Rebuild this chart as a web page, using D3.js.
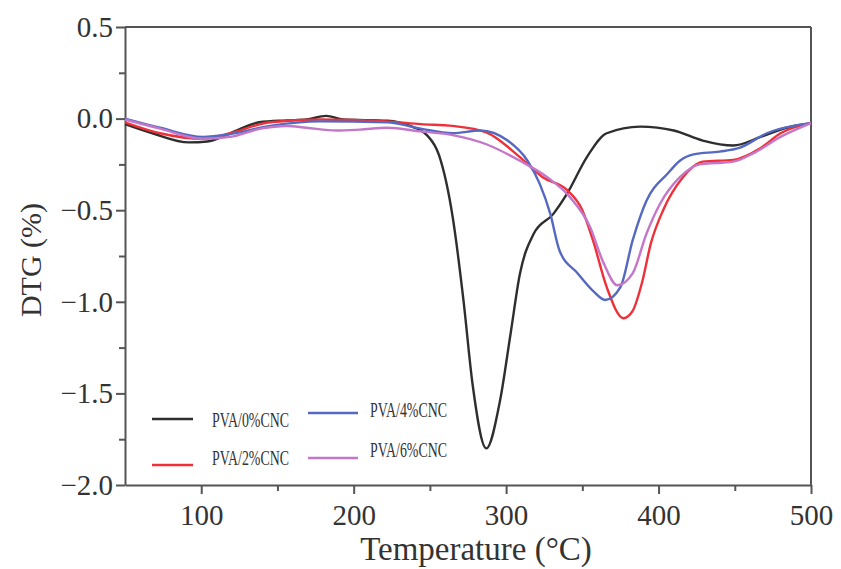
<!DOCTYPE html>
<html>
<head>
<meta charset="utf-8">
<script src="https://cdn.jsdelivr.net/npm/d3@7"></script>
<style>
  body { margin: 0; background: #fff; }
  svg { display: block; }
  .axis text { font-family: "Liberation Serif", "DejaVu Serif", serif; fill: #333; }
</style>
</head>
<body>
<div id="chart"></div>
<script>
// DATA (temperature in °C, DTG in %)
var seriesNames = ["PVA/0%CNC", "PVA/2%CNC", "PVA/4%CNC", "PVA/6%CNC"];

var pva0T = [50, 68, 92, 104, 119, 138, 156, 169, 182, 193, 222, 237, 248, 256, 265, 272, 278, 287, 296, 303, 309, 318, 331, 340, 353, 366, 388, 410, 429, 449, 467, 484, 500];
var pva0V = [-0.03, -0.08, -0.13, -0.125, -0.08, -0.02, -0.01, -0.005, 0.015, -0.005, -0.012, -0.04, -0.09, -0.2, -0.54, -0.99, -1.45, -1.8, -1.54, -1.17, -0.85, -0.63, -0.52, -0.41, -0.21, -0.08, -0.044, -0.065, -0.12, -0.147, -0.1, -0.05, -0.025];

var pva2T = [50, 73, 101, 119, 145, 178, 222, 244, 265, 287, 309, 324, 340, 350, 357, 366, 377, 383, 389, 395, 403, 416, 429, 449, 467, 480, 500];
var pva2V = [-0.02, -0.08, -0.11, -0.08, -0.02, -0.005, -0.015, -0.03, -0.04, -0.075, -0.21, -0.32, -0.39, -0.5, -0.665, -0.92, -1.09, -1.05, -0.9, -0.68, -0.5, -0.32, -0.235, -0.225, -0.16, -0.08, -0.025];

var pva4T = [50, 73, 101, 119, 145, 178, 222, 244, 265, 283, 301, 314, 322, 329, 335, 347, 357, 365, 375, 383, 392, 406, 414, 423, 440, 453, 471, 500];
var pva4V = [0, -0.05, -0.1, -0.085, -0.04, -0.015, -0.02, -0.055, -0.08, -0.065, -0.12, -0.23, -0.355, -0.52, -0.72, -0.845, -0.94, -0.99, -0.92, -0.665, -0.45, -0.3, -0.23, -0.195, -0.18, -0.16, -0.08, -0.025];

var pva6T = [50, 73, 101, 119, 139, 156, 169, 189, 204, 222, 244, 265, 287, 309, 327, 342, 355, 364, 373, 383, 392, 401, 414, 427, 449, 462, 480, 500];
var pva6V = [-0.005, -0.055, -0.11, -0.1, -0.055, -0.04, -0.05, -0.065, -0.06, -0.05, -0.07, -0.09, -0.14, -0.23, -0.32, -0.43, -0.59, -0.79, -0.91, -0.845, -0.63, -0.465, -0.32, -0.25, -0.235, -0.19, -0.1, -0.025];

var xMajorTicks = [100, 200, 300, 400, 500];
var xMinorTicks = [150, 250, 350, 450];
var yMajorTicks = [-2.0, -1.5, -1.0, -0.5, 0.0, 0.5];
var yMinorTicks = [-1.75, -1.25, -0.75, -0.25, 0.25];

var colors = ["#2e2e2e", "#ee3138", "#5569c2", "#c477c9"];

// Start of SVG
var svg_width = 841, svg_height = 569;
var svg = d3.select("#chart").append("svg")
  .attr("width", svg_width)
  .attr("height", svg_height);

var plotLeft = 125, plotRight = 811, plotTop = 27, plotBottom = 485;

var xScale = d3.scaleLinear().domain([50, 500]).range([plotLeft, plotRight]),
  yScale = d3.scaleLinear().domain([-2.0, 0.5]).range([plotBottom, plotTop]);

var frameColor = "#555";

// minor ticks (no labels)
svg.append("g")
  .attr("class", "axis")
  .attr("transform", "translate(0," + plotBottom + ")")
  .call(d3.axisBottom(xScale).tickValues(xMinorTicks).tickSize(6).tickFormat(""))
  .call(function (g) { g.select(".domain").remove(); })
  .selectAll("line").attr("stroke", frameColor).attr("stroke-width", 2);

svg.append("g")
  .attr("class", "axis")
  .attr("transform", "translate(" + plotLeft + ",0)")
  .call(d3.axisLeft(yScale).tickValues(yMinorTicks).tickSize(6).tickFormat(""))
  .call(function (g) { g.select(".domain").remove(); })
  .selectAll("line").attr("stroke", frameColor).attr("stroke-width", 2);

// X-axis
var xAxis = svg.append("g")
  .attr("class", "axis")
  .attr("transform", "translate(0," + plotBottom + ")")
  .call(d3.axisBottom(xScale).tickValues(xMajorTicks).tickSize(9).tickSizeOuter(0).tickPadding(10));
xAxis.select(".domain").attr("stroke", frameColor).attr("stroke-width", 2);
xAxis.selectAll("line").attr("stroke", frameColor).attr("stroke-width", 2);
xAxis.selectAll("text").style("font-size", "29px");

// Y-axis
var yAxis = svg.append("g")
  .attr("class", "axis")
  .attr("transform", "translate(" + plotLeft + ",0)")
  .call(d3.axisLeft(yScale).tickValues(yMajorTicks).tickSize(9).tickSizeOuter(0).tickPadding(3).tickFormat(d3.format(".1f")));
yAxis.select(".domain").attr("stroke", frameColor).attr("stroke-width", 2);
yAxis.selectAll("line").attr("stroke", frameColor).attr("stroke-width", 2);
yAxis.selectAll("text").style("font-size", "29px");

// top and right frame
svg.append("line")
  .attr("x1", xScale(50)).attr("x2", xScale(500))
  .attr("y1", yScale(0.5)).attr("y2", yScale(0.5))
  .attr("stroke", frameColor).attr("stroke-width", 2);
svg.append("line")
  .attr("x1", xScale(500)).attr("x2", xScale(500))
  .attr("y1", yScale(0.5)).attr("y2", yScale(-2.0))
  .attr("stroke", frameColor).attr("stroke-width", 2);

// axis titles
svg.append("text")
  .attr("x", 476)
  .attr("y", 560)
  .attr("text-anchor", "middle")
  .style("font-family", "'Liberation Serif', 'DejaVu Serif', serif")
  .style("font-size", "33px")
  .style("fill", "#333")
  .text("Temperature (°C)");

svg.append("text")
  .attr("transform", "translate(41,260) rotate(-90)")
  .attr("text-anchor", "middle")
  .style("font-family", "'Liberation Serif', 'DejaVu Serif', serif")
  .style("font-size", "30px")
  .style("fill", "#333")
  .text("DTG (%)");

// curves
var allT = [pva0T, pva2T, pva4T, pva6T];
var allV = [pva0V, pva2V, pva4V, pva6V];

var dataReady = seriesNames.map(function (name, i) {
  return {
    name: name,
    color: colors[i],
    values: allT[i].map(function (t, j) { return { t: t, v: allV[i][j] }; })
  };
});

var line = d3.line()
  .curve(d3.curveMonotoneX)
  .x(function (d) { return xScale(d.t); })
  .y(function (d) { return yScale(d.v); });

svg.append("g")
  .selectAll("path")
  .data(dataReady)
  .enter()
  .append("path")
  .attr("d", function (d) { return line(d.values); })
  .attr("fill", "none")
  .attr("stroke", function (d) { return d.color; })
  .attr("stroke-width", 2.4)
  .attr("stroke-linejoin", "round");

// legend
var legendPos = [
  { x1: 152, x2: 193, ly: 419, tx: 212, ty: 427 },
  { x1: 152, x2: 193, ly: 465, tx: 212, ty: 465 },
  { x1: 308, x2: 358, ly: 413, tx: 370, ty: 417 },
  { x1: 308, x2: 358, ly: 458, tx: 370, ty: 457 }
];

var legend = svg.append("g");
dataReady.forEach(function (d, i) {
  var p = legendPos[i];
  legend.append("line")
    .attr("x1", p.x1).attr("x2", p.x2)
    .attr("y1", p.ly).attr("y2", p.ly)
    .attr("stroke", d.color)
    .attr("stroke-width", 2.4);
  legend.append("text")
    .attr("x", p.tx)
    .attr("y", p.ty)
    .attr("textLength", 77)
    .attr("lengthAdjust", "spacingAndGlyphs")
    .style("font-family", "'Liberation Serif', serif")
    .style("font-size", "21px")
    .style("fill", "#333")
    .text(d.name);
});
</script>
</body>
</html>
